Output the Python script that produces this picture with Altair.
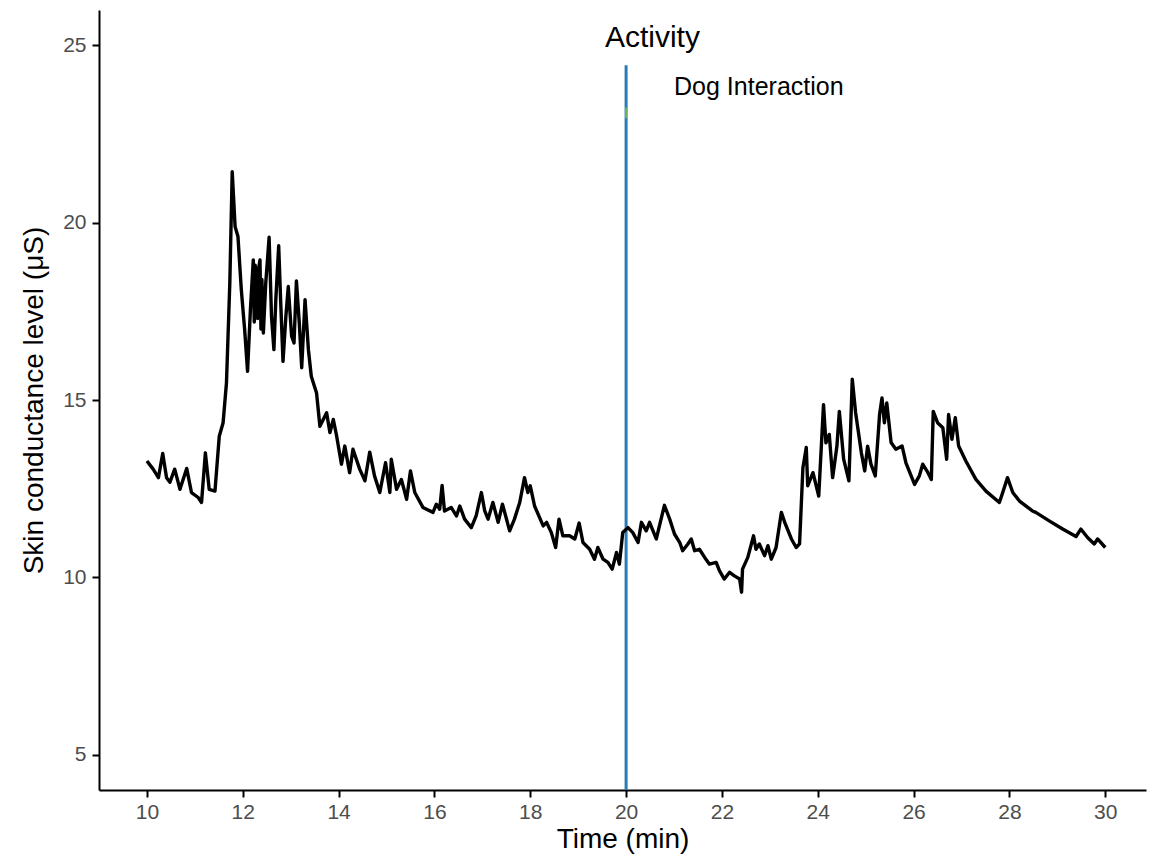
import altair as alt
import pandas as pd

# Trace of skin conductance level
time_min = [
    10.00, 10.13, 10.24, 10.33, 10.41, 10.48, 10.58, 10.69, 10.83, 10.93,
    11.07, 11.14, 11.22, 11.30, 11.42, 11.51, 11.59, 11.66, 11.73, 11.78,
    11.84, 11.90, 11.97, 12.04, 12.10, 12.16, 12.22, 12.24, 12.26, 12.29,
    12.31, 12.33, 12.36, 12.38, 12.40, 12.43, 12.48, 12.55, 12.60, 12.65,
    12.69, 12.75, 12.79, 12.84, 12.90, 12.95, 13.02, 13.07, 13.12, 13.18,
    13.23, 13.30, 13.37, 13.43, 13.54, 13.61, 13.75, 13.82, 13.89, 13.96,
    14.06, 14.13, 14.23, 14.30, 14.44, 14.55, 14.65, 14.75, 14.86, 14.98,
    15.07, 15.10, 15.21, 15.31, 15.42, 15.50, 15.59, 15.76, 15.97, 16.04,
    16.11, 16.16, 16.21, 16.35, 16.46, 16.53, 16.63, 16.77, 16.87, 16.98,
    17.05, 17.12, 17.22, 17.33, 17.42, 17.57, 17.67, 17.78, 17.88, 17.95,
    18.00, 18.09, 18.27, 18.34, 18.44, 18.53, 18.60, 18.68, 18.82, 18.93,
    19.02, 19.10, 19.24, 19.34, 19.41, 19.52, 19.62, 19.71, 19.80, 19.86,
    19.93, 20.04, 20.14, 20.25, 20.32, 20.42, 20.49, 20.63, 20.73, 20.80,
    20.91, 21.01, 21.12, 21.18, 21.29, 21.36, 21.43, 21.53, 21.64, 21.74,
    21.88, 21.95, 22.05, 22.16, 22.26, 22.37, 22.41, 22.43, 22.54, 22.66,
    22.71, 22.78, 22.89, 22.96, 23.03, 23.13, 23.24, 23.31, 23.45, 23.55,
    23.62, 23.69, 23.76, 23.79, 23.90, 24.02, 24.12, 24.17, 24.24, 24.31,
    24.40, 24.45, 24.54, 24.65, 24.72, 24.79, 24.91, 24.98, 25.04, 25.11,
    25.20, 25.29, 25.34, 25.39, 25.44, 25.53, 25.63, 25.76, 25.84, 26.02,
    26.12, 26.19, 26.30, 26.37, 26.41, 26.50, 26.61, 26.69, 26.73, 26.80,
    26.87, 26.94, 27.09, 27.30, 27.51, 27.79, 27.86, 27.96, 28.07, 28.21,
    28.48, 28.55, 28.83, 29.11, 29.39, 29.49, 29.63, 29.77, 29.84, 30.00,
]
scl_uS = [
    13.28, 13.05, 12.81, 13.49, 12.81, 12.68, 13.05, 12.48, 13.07, 12.39,
    12.25, 12.11, 13.51, 12.48, 12.43, 13.98, 14.36, 15.48, 18.30, 21.44,
    19.89, 19.61, 18.11, 16.98, 15.81, 17.55, 18.95, 17.20, 18.80, 18.11,
    17.30, 18.70, 18.95, 17.00, 18.40, 16.89, 18.30, 19.59, 17.36, 16.42,
    17.83, 19.35, 17.83, 16.09, 17.36, 18.20, 16.80, 16.61, 18.36, 17.17,
    15.91, 17.83, 16.42, 15.67, 15.20, 14.26, 14.64, 14.08, 14.45, 13.98,
    13.19, 13.70, 12.95, 13.61, 13.05, 12.72, 13.53, 12.86, 12.39, 13.23,
    12.39, 13.33, 12.48, 12.76, 12.20, 13.00, 12.39, 11.97, 11.83, 12.06,
    11.92, 12.59, 11.87, 11.97, 11.73, 12.01, 11.64, 11.40, 11.73, 12.39,
    11.87, 11.64, 12.11, 11.55, 12.06, 11.31, 11.64, 12.11, 12.81, 12.39,
    12.58, 12.01, 11.45, 11.55, 11.26, 10.84, 11.64, 11.17, 11.17, 11.08,
    11.53, 10.98, 10.79, 10.51, 10.84, 10.51, 10.42, 10.23, 10.70, 10.37,
    11.26, 11.40, 11.26, 10.98, 11.55, 11.31, 11.55, 11.08, 11.64, 12.03,
    11.64, 11.22, 10.98, 10.75, 10.94, 11.08, 10.75, 10.79, 10.56, 10.37,
    10.42, 10.18, 9.95, 10.14, 10.04, 9.95, 9.58, 10.23, 10.56, 11.17,
    10.79, 10.94, 10.61, 10.89, 10.51, 10.84, 11.83, 11.55, 11.08, 10.84,
    10.94, 13.09, 13.66, 12.58, 12.95, 12.29, 14.87, 13.79, 14.03, 12.81,
    13.70, 14.68, 13.33, 12.72, 15.59, 14.64, 13.51, 13.00, 13.70, 13.19,
    12.86, 14.59, 15.06, 14.36, 14.92, 13.80, 13.61, 13.70, 13.23, 12.62,
    12.86, 13.19, 12.95, 12.76, 14.68, 14.36, 14.22, 13.33, 14.59, 13.89,
    14.50, 13.70, 13.28, 12.76, 12.43, 12.11, 12.39, 12.81, 12.39, 12.15,
    11.87, 11.83, 11.59, 11.36, 11.15, 11.36, 11.12, 10.94, 11.08, 10.84,
]

# Activity marker
activity_time = [20.0]
activity_top = [24.44]
activity_bottom = [4.0]
green_low = [22.95]
green_high = [23.25]

# Annotations
label_texts = ["Activity", "Dog Interaction"]
label_x = [20.55, 22.77]
label_y = [25.2, 23.82]
label_sizes = [30, 25]

x_ticks = [10, 12, 14, 16, 18, 20, 22, 24, 26, 28, 30]
y_ticks = [5, 10, 15, 20, 25]

FONT = "Liberation Sans"

trace = pd.DataFrame({"t": time_min, "v": scl_uS})
marker = pd.DataFrame({"t": activity_time, "lo": activity_bottom, "hi": activity_top,
                       "glo": green_low, "ghi": green_high})
labels = pd.DataFrame({"text": label_texts, "t": label_x, "v": label_y, "size": label_sizes})

xscale = alt.Scale(domain=[9, 30.85], nice=False, zero=False)
yscale = alt.Scale(domain=[4, 26], nice=False, zero=False)

xaxis = alt.Axis(values=x_ticks, title="Time (min)", grid=False, domainColor="black",
                 domainWidth=2, tickColor="black", tickWidth=2, tickSize=7,
                 labelFont=FONT, labelFontSize=21, labelColor="#4d4d4d", labelPadding=4,
                 titleFont=FONT, titleFontSize=28, titleFontWeight="normal",
                 titleColor="black", titlePadding=3)
yaxis = alt.Axis(values=y_ticks, title="Skin conductance level (μS)", grid=False,
                 domainColor="black", domainWidth=2, tickColor="black", tickWidth=2,
                 tickSize=7, labelFont=FONT, labelFontSize=21, labelColor="#4d4d4d",
                 labelPadding=6, titleFont=FONT, titleFontSize=28,
                 titleFontWeight="normal", titleColor="black", titlePadding=14)

line = alt.Chart(trace).mark_line(color="black", strokeWidth=3.4, clip=True,
                                  strokeJoin="round").encode(
    x=alt.X("t:Q", scale=xscale, axis=xaxis),
    y=alt.Y("v:Q", scale=yscale, axis=yaxis),
)

vrule = alt.Chart(marker).mark_rule(color="#2a7ab5", strokeWidth=3).encode(
    x=alt.X("t:Q", scale=xscale),
    y=alt.Y("lo:Q", scale=yscale),
    y2="hi:Q",
)

grule = alt.Chart(marker).mark_rule(color="#7cc44a", strokeWidth=2, opacity=0.8).encode(
    x=alt.X("t:Q", scale=xscale),
    y=alt.Y("glo:Q", scale=yscale),
    y2="ghi:Q",
)

texts = alt.Chart(labels).mark_text(font=FONT, color="black", baseline="middle",
                                    align="center").encode(
    x=alt.X("t:Q", scale=xscale),
    y=alt.Y("v:Q", scale=yscale),
    text="text:N",
    size=alt.Size("size:Q", scale=None, legend=None),
)

chart = (
    alt.layer(vrule, grule, line, texts)
    .properties(width=1047, height=780, background="white",
                padding={"left": 91, "top": 2, "right": 2, "bottom": 70},
                autosize=alt.AutoSizeParams(type="none"))
    .configure_view(strokeWidth=0, stroke="transparent")
)

chart.save("out.html", embed_options={"renderer": "svg", "actions": False})
